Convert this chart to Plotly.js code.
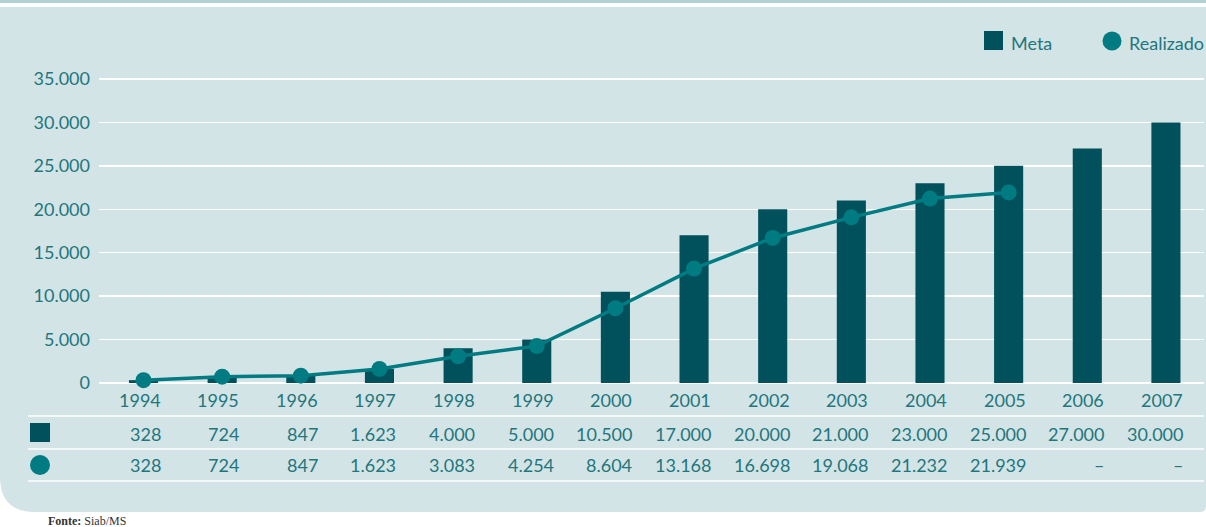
<!DOCTYPE html>
<html>
<head>
<meta charset="utf-8">
<script src="https://cdn.plot.ly/plotly-3.0.1.min.js"></script>
<style>
html,body{margin:0;padding:0;background:#fff;}
#chart{width:1206px;height:527px;}
</style>
</head>
<body>
<div id="chart"></div>
<script>
// ---- data ----
var years = [1994, 1995, 1996, 1997, 1998, 1999, 2000, 2001, 2002, 2003, 2004, 2005, 2006, 2007];
var meta = [328, 724, 847, 1623, 4000, 5000, 10500, 17000, 20000, 21000, 23000, 25000, 27000, 30000];
var realizado = [328, 724, 847, 1623, 3083, 4254, 8604, 13168, 16698, 19068, 21232, 21939, null, null];
var yTicks = [0, 5000, 10000, 15000, 20000, 25000, 30000, 35000];
var seriesNames = ['Meta', 'Realizado'];
var sourceLabel = 'Fonte:';
var sourceText = 'Siab/MS';

// ---- layout helpers ----
var W = 1206, H = 527;
function px(x){ return x / W; }
function py(y){ return 1 - y / H; }

var cBar = '#00515c';
var cLine = '#007b82';
var cText = '#22767c';
var cPanel = '#d3e4e7';
var FONT = 'Lato, "Open Sans", sans-serif';

function fmt(v){
  if (v === null || v === undefined) return '–';
  return String(v).replace(/\B(?=(\d{3})+(?!\d))/g, '.');
}

var traces = [
  {
    type: 'bar', x: years, y: meta, name: seriesNames[0],
    marker: {color: cBar}, showlegend: false, hoverinfo: 'skip'
  },
  {
    type: 'scatter', mode: 'lines+markers', x: years, y: realizado, name: seriesNames[1],
    line: {color: cLine, width: 3.5}, marker: {color: cLine, size: 16},
    showlegend: false, cliponaxis: false, connectgaps: false, hoverinfo: 'skip'
  }
];

var annotations = [];
function rowAnn(texts, yPix){
  texts.forEach(function(t, i){
    annotations.push({
      x: years[i], xref: 'x', y: py(yPix), yref: 'paper',
      text: String(t), showarrow: false, xanchor: 'right', yanchor: 'middle',
      xshift: 19, font: {family: FONT, size: 18, color: cText}
    });
  });
}
rowAnn(years, 400);
rowAnn(meta.map(fmt), 434);
rowAnn(realizado.map(fmt), 465);

// legend texts
annotations.push({x: px(1009), y: py(43), xref: 'paper', yref: 'paper', xanchor: 'left', yanchor: 'middle',
  text: seriesNames[0], showarrow: false, font: {family: FONT, size: 18, color: cText}});
annotations.push({x: px(1127), y: py(43), xref: 'paper', yref: 'paper', xanchor: 'left', yanchor: 'middle',
  text: seriesNames[1], showarrow: false, font: {family: FONT, size: 18, color: cText}});
// source
annotations.push({x: px(46), y: py(521), xref: 'paper', yref: 'paper', xanchor: 'left', yanchor: 'middle',
  text: '<b>' + sourceLabel + '</b> ' + sourceText, showarrow: false,
  font: {family: '"Liberation Serif", serif', size: 12, color: '#333'}});

var r = 35;
var panelPath = 'M ' + px(0) + ',' + py(7) +
  ' L ' + px(W) + ',' + py(7) +
  ' L ' + px(W) + ',' + py(506) +
  ' Q ' + px(W) + ',' + py(512) + ' ' + px(W-6) + ',' + py(512) +
  ' L ' + px(r) + ',' + py(512) +
  ' Q ' + px(0) + ',' + py(512) + ' ' + px(0) + ',' + py(512 - r) + ' Z';

var shapes = [
  {type: 'rect', xref: 'paper', yref: 'paper', x0: 0, x1: 1, y0: py(3), y1: 1, fillcolor: '#b3d1d5', line: {width: 0}, layer: 'below'},
  {type: 'path', xref: 'paper', yref: 'paper', path: panelPath, fillcolor: cPanel, line: {width: 0}, layer: 'below'},
  // table lines
  {type: 'line', xref: 'paper', yref: 'paper', x0: px(28), x1: px(1204), y0: py(416), y1: py(416), line: {color: '#fff', width: 1.5}, layer: 'below'},
  {type: 'line', xref: 'paper', yref: 'paper', x0: px(28), x1: px(1204), y0: py(449), y1: py(449), line: {color: '#fff', width: 1.5}, layer: 'below'},
  {type: 'line', xref: 'paper', yref: 'paper', x0: px(28), x1: px(1204), y0: py(481), y1: py(481), line: {color: '#fff', width: 1.5}, layer: 'below'},
  // table icons
  {type: 'rect', xref: 'paper', yref: 'paper', x0: px(30), x1: px(50), y0: py(442), y1: py(423), fillcolor: cBar, line: {width: 0}},
  {type: 'circle', xref: 'paper', yref: 'paper', x0: px(30), x1: px(50), y0: py(475), y1: py(455), fillcolor: cLine, line: {width: 0}},
  // legend icons
  {type: 'rect', xref: 'paper', yref: 'paper', x0: px(984), x1: px(1003), y0: py(50), y1: py(31), fillcolor: cBar, line: {width: 0}},
  {type: 'circle', xref: 'paper', yref: 'paper', x0: px(1102.5), x1: px(1121.5), y0: py(50.5), y1: py(31.5), fillcolor: cLine, line: {width: 0}}
];

var layout = {
  width: W, height: H,
  margin: {l: 0, r: 0, t: 0, b: 0},
  paper_bgcolor: '#ffffff',
  plot_bgcolor: 'rgba(0,0,0,0)',
  separators: ',.',
  showlegend: false,
  bargap: 0.63,
  font: {family: FONT, color: cText},
  xaxis: {
    type: 'linear',
    domain: [px(99), px(1204)],
    range: [years[0] - 0.566, years[0] + 13.484],
    showticklabels: false, showgrid: false, zeroline: false, showline: false, ticks: '',
    fixedrange: true
  },
  yaxis: {
    domain: [py(383), py(61.6)],
    range: [0, 37000],
    tickvals: yTicks, tickformat: ',d',
    showgrid: true, gridcolor: '#ffffff', gridwidth: 1.5,
    zeroline: true, zerolinecolor: '#ffffff', zerolinewidth: 1.5,
    showline: false, ticks: '', ticklabelstandoff: 8,
    tickfont: {family: FONT, size: 18, color: cText},
    fixedrange: true
  },
  shapes: shapes,
  annotations: annotations
};

Plotly.newPlot('chart', traces, layout, {displayModeBar: false, staticPlot: true});
</script>
</body>
</html>
